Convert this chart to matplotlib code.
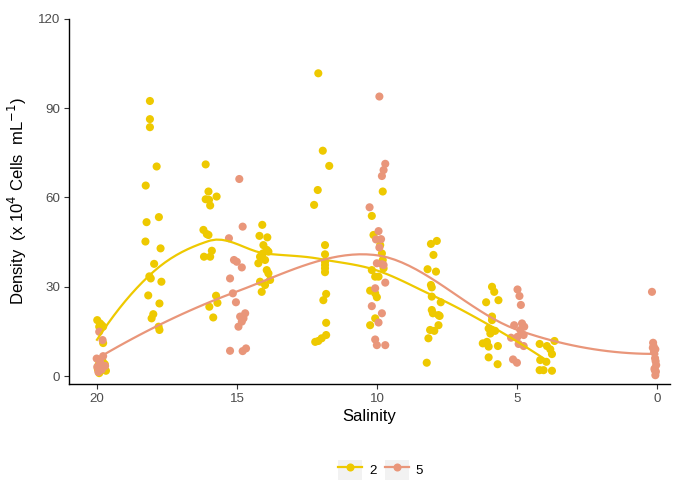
import numpy as np
import matplotlib
matplotlib.use("Agg")
import matplotlib.pyplot as plt
from matplotlib.lines import Line2D
from matplotlib.patches import Rectangle
from matplotlib.legend_handler import HandlerLine2D

plt.rcParams['font.family'] = ['Liberation Sans', 'DejaVu Sans']

# ---- data (salinity as plotted with jitter, density x10^4 cells/mL) ----
sal_2 = [19.99, 19.89, 19.78, 19.92, 19.83, 19.78, 19.92, 19.68,
         19.95, 19.85, 19.75, 19.90, 19.80, 19.97, 19.72, 19.88, 19.82, 19.94,
         18.11, 18.11, 18.11, 17.87, 18.26, 18.23, 17.79, 18.27, 17.73, 17.96,
         18.08, 18.13, 17.70, 18.17, 17.77, 17.99, 18.05, 17.80, 17.77,
         16.12, 16.02, 16.12, 16.00, 15.96, 15.73, 16.20, 16.08, 16.02, 15.90,
         16.18, 15.96, 15.75, 15.99, 15.70, 15.85,
         14.10, 14.20, 13.92, 14.06, 13.94, 13.88, 14.08, 14.18, 14.00, 14.24,
         13.94, 13.88, 13.82, 14.18, 14.00, 14.12,
         12.10, 11.94, 11.71, 12.12, 12.25, 11.86, 11.86, 11.86, 11.86, 11.86,
         11.86, 11.82, 11.92, 11.82, 11.82, 11.98, 12.10, 12.21,
         9.80, 10.19, 10.13, 9.89, 9.83, 9.80, 9.77, 10.19, 10.07, 9.95,
         10.25, 10.07, 10.01, 10.07, 10.25,
         8.08, 7.87, 7.99, 8.20, 7.90, 8.08, 8.05, 8.05, 7.73, 8.05, 8.01,
         7.81, 7.77, 7.81, 8.11, 7.96, 8.17, 8.23,
         5.90, 5.82, 6.11, 5.67, 5.90, 5.90, 6.02, 5.90, 5.79, 5.96, 6.23,
         6.08, 6.02, 5.69, 6.02, 5.70,
         4.20, 3.94, 3.67, 3.82, 3.76, 4.18, 3.96, 4.20, 4.06, 3.76]
dens_2 = [18.8, 17.7, 16.6, 16.6, 17.1, 11.1, 1.0, 1.8,
          2.0, 3.0, 3.5, 4.5, 5.0, 2.5, 4.0, 3.0, 2.2, 3.8,
          92.4, 86.3, 83.6, 70.4, 64.0, 51.7, 53.4, 45.2, 42.9, 37.7,
          32.8, 33.5, 31.7, 27.1, 24.4, 20.8, 19.4, 16.6, 15.5,
          71.1, 62.0, 59.4, 59.2, 57.3, 60.3, 49.1, 47.7, 47.4, 42.1,
          40.1, 40.1, 27.0, 23.3, 24.6, 19.7,
          50.8, 47.1, 46.6, 44.0, 42.4, 41.8, 41.2, 40.1, 39.0, 37.9,
          35.6, 34.5, 32.3, 31.7, 30.6, 28.3,
          101.7, 75.7, 70.6, 62.5, 57.5, 44.0, 40.9, 38.4, 37.3, 36.2,
          34.9, 27.6, 25.5, 17.9, 13.8, 12.7, 11.8, 11.5,
          62.0, 53.8, 47.4, 44.0, 41.2, 39.0, 36.2, 35.6, 33.4, 33.4,
          28.7, 27.8, 26.5, 19.4, 17.1,
          44.4, 45.4, 40.7, 35.9, 35.1, 30.6, 29.8, 26.7, 24.8, 22.2, 21.1,
          20.5, 20.2, 17.1, 15.5, 15.2, 12.7, 4.5,
          30.0, 28.3, 24.8, 25.5, 20.0, 18.8, 16.0, 15.5, 15.2, 14.3, 11.0,
          11.5, 9.9, 10.1, 6.3, 4.0,
          10.8, 10.1, 11.8, 9.0, 7.4, 5.4, 4.8, 2.0, 2.0, 1.8]

sal_5 = [19.92, 19.80, 20.01, 19.78, 19.89, 19.99, 19.71, 19.83, 19.95, 19.86,
         14.92, 14.80, 15.29, 15.11, 15.01, 14.83, 15.25, 15.15, 15.04, 14.89,
         14.71, 14.95, 14.83, 14.77, 15.25, 14.80, 14.68,
         9.92, 9.71, 9.77, 9.83, 10.27, 9.95, 10.04, 9.86, 9.92, 10.01, 9.83,
         9.77, 9.71, 10.07, 10.19, 9.83, 9.95, 10.07, 10.01, 9.71,
         4.99, 4.92, 4.87, 5.11, 4.83, 4.75, 4.89, 4.77, 4.99, 5.22, 4.95,
         4.77, 5.15, 5.01,
         0.19, 0.15, 0.13, 0.07, 0.16, 0.12, 0.08, 0.06, 0.04, 0.10, 0.05,
         0.09, 0.07]
dens_5 = [14.9, 12.1, 5.9, 6.7, 4.8, 3.1, 3.4, 2.2, 1.4, 4.0,
          66.2, 50.2, 46.3, 39.0, 38.4, 36.5, 32.8, 27.8, 24.8, 20.0,
          21.1, 16.6, 18.3, 19.4, 8.5, 8.4, 9.3,
          93.9, 71.3, 69.2, 67.2, 56.7, 48.7, 45.9, 46.0, 43.2, 37.9, 37.6,
          37.3, 31.4, 29.5, 23.5, 21.1, 18.0, 12.3, 10.4, 10.4,
          29.1, 26.9, 23.9, 17.1, 17.7, 16.6, 15.5, 13.8, 13.2, 12.9, 10.8,
          10.1, 5.6, 4.5,
          28.3, 11.2, 10.0, 9.0, 9.5, 8.0, 6.0, 5.0, 3.7, 2.5, 1.5, 2.0, 0.3]

groups = ["2", "5"]
colors = {"2": "#EEC900", "5": "#E9967A"}
x_ticks = [20, 15, 10, 5, 0]
y_ticks = [0, 30, 60, 90, 120]


def local_fit(x, y, x0, span=0.75):
    """Local quadratic (loess) fit at x0: returns value and slope."""
    n = len(x)
    q = int(np.floor(n * span))
    d = np.abs(x - x0)
    h = np.sort(d)[q - 1]
    u = np.clip(d / h, 0, 1)
    w = (1 - u ** 3) ** 3
    X = np.column_stack([np.ones(n), x - x0, (x - x0) ** 2])
    W = np.sqrt(w)
    beta, *_ = np.linalg.lstsq(X * W[:, None], y * W, rcond=None)
    return beta[0], beta[1]


def loess_curve(x, y, npts=80):
    # vertices at the distinct salinity levels, cubic Hermite between them
    x = np.asarray(x, float)
    y = np.asarray(y, float)
    verts = np.unique(x)
    vals = np.array([local_fit(x, y, v) for v in verts])
    grid = np.linspace(verts[0], verts[-1], npts)
    grid = np.unique(np.concatenate([grid, verts]))
    out = np.empty_like(grid)
    for k, g in enumerate(grid):
        i = min(np.searchsorted(verts, g, side='right') - 1, len(verts) - 2)
        x0, x1 = verts[i], verts[i + 1]
        hh = x1 - x0
        t = (g - x0) / hh
        h00 = 2 * t ** 3 - 3 * t ** 2 + 1
        h10 = t ** 3 - 2 * t ** 2 + t
        h01 = -2 * t ** 3 + 3 * t ** 2
        h11 = t ** 3 - t ** 2
        out[k] = (h00 * vals[i, 0] + h10 * hh * vals[i, 1]
                  + h01 * vals[i + 1, 0] + h11 * hh * vals[i + 1, 1])
    return grid, out


fig = plt.figure(figsize=(6.76, 4.82), dpi=100)
ax = fig.add_axes([0.102, 0.203, 0.889, 0.758])

data = {"2": (sal_2, dens_2), "5": (sal_5, dens_5)}
for g in groups:
    xs, ys = data[g]
    ax.scatter(xs, ys, s=34, color=colors[g], edgecolors='none', zorder=3)
for g in groups:
    xs, ys = data[g]
    gx, gy = loess_curve(np.round(xs), ys)
    ax.plot(gx, gy, color=colors[g], lw=1.6, zorder=4)

ax.set_xlim(21, -0.45)
ax.set_ylim(-2.7, 120)
ax.set_xticks(x_ticks)
ax.set_yticks(y_ticks)
ax.set_xticklabels([str(t) for t in x_ticks])
ax.set_yticklabels([str(t) for t in y_ticks])
for s in ['top', 'right']:
    ax.spines[s].set_visible(False)
for s in ['left', 'bottom']:
    ax.spines[s].set_linewidth(1.0)
    ax.spines[s].set_color('black')
ax.tick_params(axis='both', length=3.5, width=0.8, color='#333333',
               labelcolor='#4D4D4D', labelsize=9.6, pad=3)

ax.set_xlabel('Salinity', fontsize=12, labelpad=3)
ax.set_ylabel('Density  (x 10$^{4}$ Cells  mL$^{-1}$)', fontsize=12, labelpad=6)


class KeyHandler(HandlerLine2D):
    def create_artists(self, legend, orig_handle, xdescent, ydescent,
                       width, height, fontsize, trans):
        arts = super().create_artists(legend, orig_handle, xdescent, ydescent,
                                      width, height, fontsize, trans)
        rect = Rectangle((-xdescent, -ydescent), width, height,
                         facecolor='#F2F2F2', edgecolor='none', transform=trans)
        return [rect] + list(arts)


handles = [Line2D([], [], color=colors[g], lw=1.6, marker='o', markersize=5.8,
                  markeredgewidth=0) for g in groups]
fig.legend(handles, groups, loc='center', bbox_to_anchor=(0.563, 0.025),
           ncol=2, frameon=False, fontsize=9.6, handlelength=1.85,
           handleheight=1.85, handletextpad=0.5, columnspacing=0.6,
           borderpad=0.2,
           handler_map={Line2D: KeyHandler(numpoints=1)})

fig.savefig('out.png', dpi=100)
